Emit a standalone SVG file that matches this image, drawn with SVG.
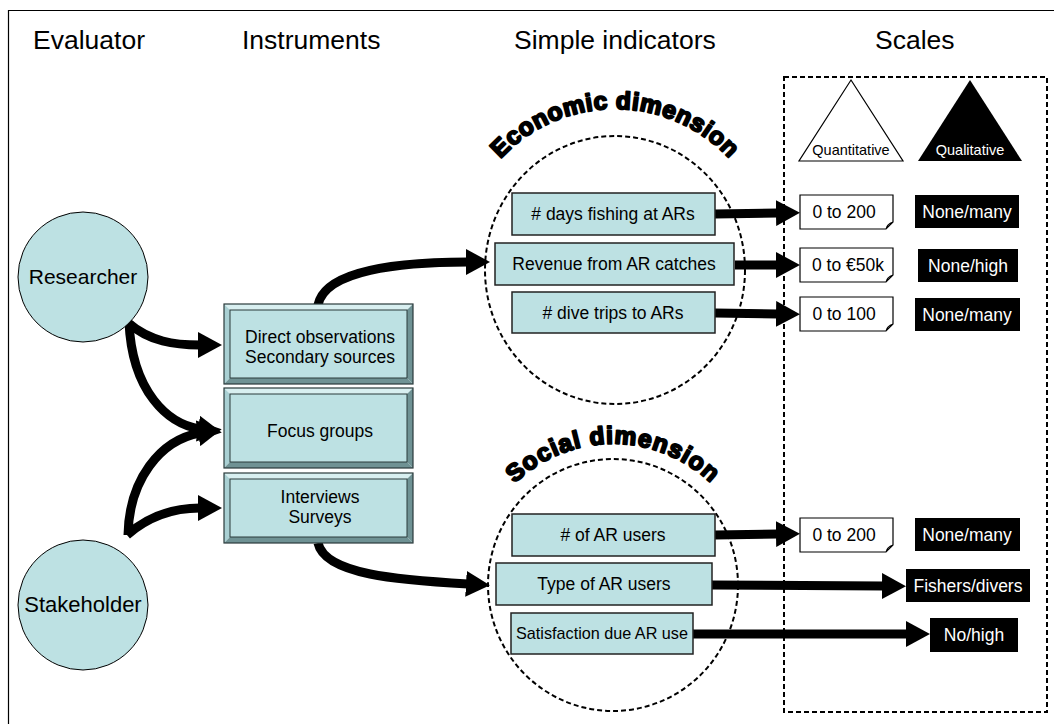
<svg xmlns="http://www.w3.org/2000/svg" width="1054" height="724" viewBox="0 0 1054 724">
  <style>
    .hdr { font-family: "Liberation Sans", Arial, sans-serif; font-size: 26.5px; fill: #000; }
    .lbl { font-family: "Liberation Sans", Arial, sans-serif; font-size: 17.5px; fill: #000; text-anchor: middle; }
    .wlbl { font-family: "Liberation Sans", Arial, sans-serif; font-size: 17.5px; fill: #fff; text-anchor: middle; }
    .tri { font-family: "Liberation Sans", Arial, sans-serif; font-size: 14.5px; text-anchor: middle; }
    .arc { font-family: "Liberation Sans", Arial, sans-serif; font-weight: bold; font-size: 24.5px; fill: #000; stroke: #000; stroke-width: 2; stroke-linejoin: round; }
    .teal { fill: #bde1e3; stroke: #000; stroke-width: 1; }
    .ind { fill: #bde1e3; stroke: #222; stroke-width: 1.5; }
    .note { fill: #fff; stroke: #000; stroke-width: 1.2; }
    .blk { fill: #000; }
    .dash { fill: none; stroke: #000; stroke-width: 2; stroke-dasharray: 5 3; }
    .bev-lt { fill: #d8eff0; }
    .bev-dk { fill: #6f9294; }
    .bev-md { fill: #a9d0d3; }
    .bev-line { fill: none; stroke: #2a3a3b; stroke-width: 1.2; }
    .conn path { fill: none; stroke: #000; stroke-width: 9; marker-end: url(#ah); }
  </style>
  <defs>
    <marker id="ah" markerUnits="userSpaceOnUse" markerWidth="24" markerHeight="26" viewBox="0 0 24 26" refX="2" refY="13" orient="auto">
      <path d="M0,0 L24,13 L0,26 z" fill="#000"/>
    </marker>
    <!-- baselines for the curved dimension titles -->
    <path id="arcEco" d="M 465,222 A 156 156 0 0 1 765,222"/>
    <path id="arcSoc" d="M 478,544 A 141 141 0 0 1 748,544"/>
  </defs>

  <rect width="1054" height="724" fill="#fff"/>
  <!-- outer frame -->
  <path d="M 8.5,724 V 10.5 H 1054" fill="none" stroke="#000" stroke-width="1.2"/>

  <!-- column headings -->
  <g id="headings">
    <text class="hdr" x="33" y="49">Evaluator</text>
    <text class="hdr" x="242" y="49">Instruments</text>
    <text class="hdr" x="514" y="49">Simple indicators</text>
    <text class="hdr" x="875" y="49">Scales</text>
  </g>

  <!-- scales panel -->
  <g id="scales-panel">
    <rect class="dash" x="784" y="77" width="263" height="635"/>
    <polygon points="851,80 903,161 799,161" fill="#fff" stroke="#000" stroke-width="1.2"/>
    <text class="tri" x="851" y="155">Quantitative</text>
    <polygon points="970,80 1022,161 918,161" fill="#000"/>
    <text class="tri" x="970" y="155" fill="#fff">Qualitative</text>
  </g>

  <!-- connectors -->
  <g class="conn" id="connectors">
    <path d="M 127,322 C 150,342 175,345 200,345"/>
    <path d="M 129,322 C 132,392 168,424 200,429"/>
    <path d="M 128,535 C 129,480 160,440 200,433"/>
    <path d="M 127,535 C 150,515 175,508 200,508"/>
    <path d="M 318,305 C 325,270 400,262 468,262"/>
    <path d="M 318,543 C 325,575 400,580 468,584"/>
    <path d="M 715,214 L 778,213"/>
    <path d="M 735,265 L 778,265"/>
    <path d="M 715,313 L 778,314"/>
    <path d="M 715,535 L 778,534"/>
    <path d="M 712,585 L 884,586"/>
    <path d="M 693,634 L 908,634"/>
  </g>

  <!-- evaluators -->
  <g id="researcher">
    <circle class="teal" cx="83" cy="277" r="65"/>
    <text class="lbl" x="83" y="284" style="font-size:21px">Researcher</text>
  </g>
  <g id="stakeholder">
    <circle class="teal" cx="83" cy="605" r="65"/>
    <text class="lbl" x="83" y="612" style="font-size:22px">Stakeholder</text>
  </g>

  <!-- instruments (bevelled) -->
  <g id="inst-direct">
    <polygon class="bev-lt" points="224,304 413,304 407,310 230,310"/>
    <polygon class="bev-md" points="224,304 230,310 230,378 224,384"/>
    <polygon class="bev-dk" points="413,304 413,384 407,378 407,310"/>
    <polygon class="bev-dk" points="224,384 230,378 407,378 413,384"/>
    <rect x="230" y="310" width="177" height="68" fill="#bde1e3" stroke="#2a3a3b" stroke-width="1"/>
    <rect class="bev-line" x="224" y="304" width="189" height="80"/>
    <text class="lbl" x="320" y="343">Direct observations</text>
    <text class="lbl" x="320" y="363">Secondary sources</text>
  </g>
  <g id="inst-focus">
    <polygon class="bev-lt" points="224,388 413,388 407,394 230,394"/>
    <polygon class="bev-md" points="224,388 230,394 230,462 224,468"/>
    <polygon class="bev-dk" points="413,388 413,468 407,462 407,394"/>
    <polygon class="bev-dk" points="224,468 230,462 407,462 413,468"/>
    <rect x="230" y="394" width="177" height="68" fill="#bde1e3" stroke="#2a3a3b" stroke-width="1"/>
    <rect class="bev-line" x="224" y="388" width="189" height="80"/>
    <text class="lbl" x="320" y="437">Focus groups</text>
  </g>
  <g id="inst-interviews">
    <polygon class="bev-lt" points="224,473 413,473 407,479 230,479"/>
    <polygon class="bev-md" points="224,473 230,479 230,537 224,543"/>
    <polygon class="bev-dk" points="413,473 413,543 407,537 407,479"/>
    <polygon class="bev-dk" points="224,543 230,537 407,537 413,543"/>
    <rect x="230" y="479" width="177" height="58" fill="#bde1e3" stroke="#2a3a3b" stroke-width="1"/>
    <rect class="bev-line" x="224" y="473" width="189" height="70"/>
    <text class="lbl" x="320" y="503">Interviews</text>
    <text class="lbl" x="320" y="523">Surveys</text>
  </g>

  <!-- economic dimension -->
  <g id="economic-dimension">
    <ellipse class="dash" cx="615" cy="270" rx="130" ry="134"/>
    <text class="arc" letter-spacing="0.6"><textPath href="#arcEco" startOffset="50%" text-anchor="middle">Economic dimension</textPath></text>
  </g>
  <g id="ind-days">
    <rect class="ind" x="512" y="193" width="203" height="42"/>
    <text class="lbl" x="613" y="220"># days fishing at ARs</text>
  </g>
  <g id="ind-revenue">
    <rect class="ind" x="495" y="243" width="239" height="42"/>
    <text class="lbl" x="614" y="270">Revenue from AR catches</text>
  </g>
  <g id="ind-dive">
    <rect class="ind" x="512" y="292" width="203" height="41"/>
    <text class="lbl" x="613" y="319"># dive trips to ARs</text>
  </g>

  <!-- social dimension -->
  <g id="social-dimension">
    <ellipse class="dash" cx="613" cy="585" rx="125" ry="126"/>
    <text class="arc" letter-spacing="1"><textPath href="#arcSoc" startOffset="50%" text-anchor="middle">Social dimension</textPath></text>
  </g>
  <g id="ind-users">
    <rect class="ind" x="512" y="514" width="203" height="42"/>
    <text class="lbl" x="613" y="541"># of AR users</text>
  </g>
  <g id="ind-type">
    <rect class="ind" x="496" y="563" width="216" height="42"/>
    <text class="lbl" x="604" y="590">Type of AR users</text>
  </g>
  <g id="ind-satisfaction">
    <rect class="ind" x="511" y="613" width="182" height="41"/>
    <text class="lbl" x="602" y="639" style="font-size:16.2px">Satisfaction due AR use</text>
  </g>

  <!-- quantitative scales -->
  <g id="q-days">
    <path class="note" d="M800,195 H893 V222 L886,229 H800 Z M886,229 Q887,224 893,222"/>
    <text class="lbl" x="844" y="218">0 to 200</text>
  </g>
  <g id="q-revenue">
    <path class="note" d="M800,248 H893 V275 L886,282 H800 Z M886,282 Q887,277 893,275"/>
    <text class="lbl" x="848" y="271">0 to €50k</text>
  </g>
  <g id="q-dive">
    <path class="note" d="M800,297 H893 V324 L886,331 H800 Z M886,331 Q887,326 893,324"/>
    <text class="lbl" x="844" y="320">0 to 100</text>
  </g>
  <g id="q-users">
    <path class="note" d="M800,518 H893 V545 L886,552 H800 Z M886,552 Q887,547 893,545"/>
    <text class="lbl" x="844" y="541">0 to 200</text>
  </g>

  <!-- qualitative scales -->
  <g id="c-days">
    <rect class="blk" x="915" y="195" width="104" height="33"/>
    <text class="wlbl" x="967" y="218">None/many</text>
  </g>
  <g id="c-revenue">
    <rect class="blk" x="918" y="249" width="100" height="33"/>
    <text class="wlbl" x="968" y="272">None/high</text>
  </g>
  <g id="c-dive">
    <rect class="blk" x="915" y="298" width="105" height="33"/>
    <text class="wlbl" x="967" y="321">None/many</text>
  </g>
  <g id="c-users">
    <rect class="blk" x="915" y="518" width="105" height="33"/>
    <text class="wlbl" x="967" y="541">None/many</text>
  </g>
  <g id="c-type">
    <rect class="blk" x="906" y="569" width="124" height="33"/>
    <text class="wlbl" x="968" y="592">Fishers/divers</text>
  </g>
  <g id="c-satisfaction">
    <rect class="blk" x="930" y="618" width="88" height="34"/>
    <text class="wlbl" x="974" y="641">No/high</text>
  </g>
</svg>
